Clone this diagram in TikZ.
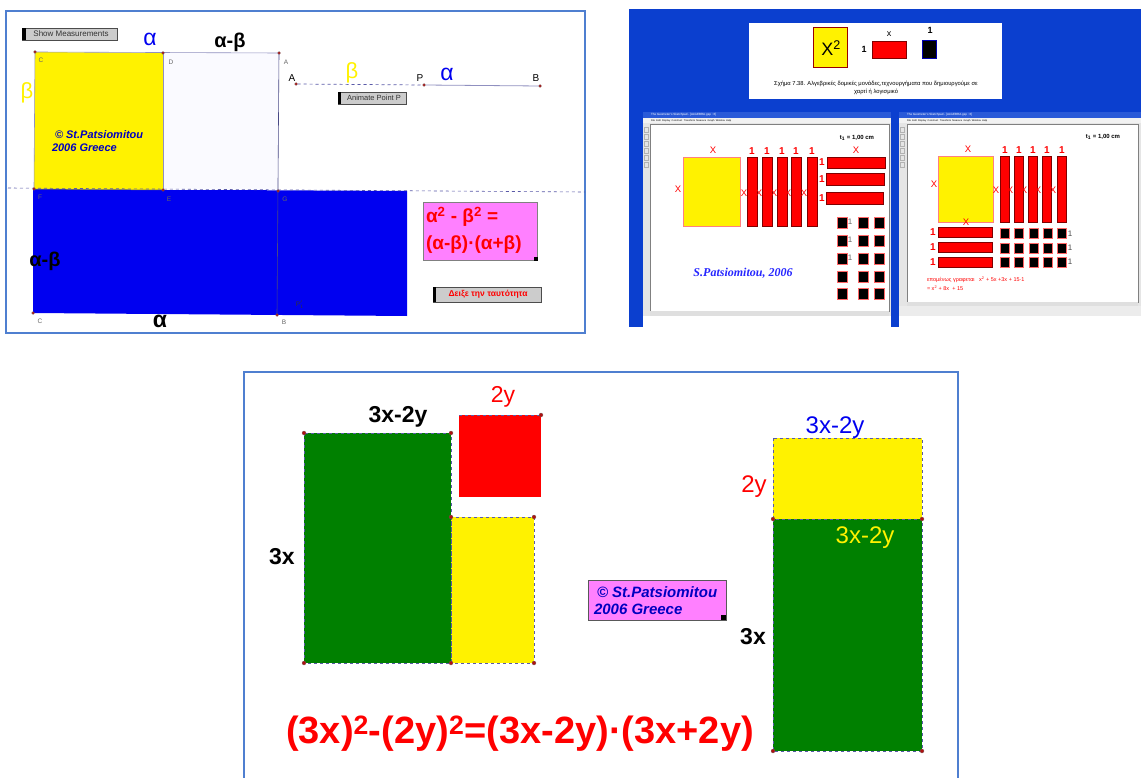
\documentclass[tikz,border=0pt]{standalone}
\usepackage{fontspec}
\setmainfont{Liberation Sans}
\newfontfamily\tserif{Liberation Serif}
\definecolor{pborder}{HTML}{4F7FD0}
\definecolor{sbg}{HTML}{0B3FCF}
\definecolor{pinkbox}{HTML}{FF80FF}
\definecolor{ggreen}{HTML}{008000}
\definecolor{gblue}{HTML}{0000F0}
\definecolor{dashc}{HTML}{5A5AA8}
\definecolor{dotred}{HTML}{B01010}
\definecolor{edgec}{HTML}{9090C0}
\definecolor{winbar}{HTML}{2A5AD8}
\newcommand{\fsz}[1]{\fontsize{#1}{#1}\selectfont}
\begin{document}
\begin{tikzpicture}[x=1pt,y=-1pt,every node/.style={inner sep=0pt,outer sep=0pt}]
\tikzset{
  vdot/.style={circle,fill=dotred,draw=black!60,line width=0.2pt,inner sep=0pt,minimum size=4pt},
  plbl/.style={font=\fsz{6.5},text=black!60},
  wx/.style={font=\fsz{9.5},text=red},
  wone/.style={font=\bfseries\fsz{10},text=red},
  blk/.style={fill=black,draw=red!60,line width=0.3pt},
  rbar/.style={fill=red,draw=red!50!black,line width=0.3pt},
}
\useasboundingbox (0,0) rectangle (1141,778);
\fill[white] (0,0) rectangle (1141,778);

% ================= panel 1 =================
\draw[pborder,line width=1.8pt] (6,11) rectangle (585,333);
\fill[gblue] (33,189) -- (407,191) -- (407,316) -- (33,313) -- cycle;
\fill[yellow] (35,52) -- (163,53) -- (163,190) -- (34,189) -- cycle;
\fill[blue!2] (163,53) -- (279,53) -- (278,190) -- (163,190) -- cycle;
\draw[edgec,line width=0.6pt] (35,52) -- (279,53);
\draw[edgec,line width=0.6pt] (35,52) -- (34,189);
\draw[edgec,line width=0.6pt] (163,53) -- (163,190);
\draw[black!60,line width=0.5pt] (34,189) -- (163,190);
\draw[dashc!80!black,line width=0.6pt] (279,53) -- (277,315);
\draw[dashc,dashed,line width=0.6pt] (8,188) -- (585,192);
\node[vdot,minimum size=3pt] (pC) at (35,52) {};
\node[vdot,minimum size=3pt] (pD) at (163,53) {};
\node[vdot,minimum size=3pt] (pA) at (279,53) {};
\node[vdot,minimum size=3pt] (pF) at (34,189) {};
\node[vdot,minimum size=3pt] (pE) at (163,190) {};
\node[vdot,minimum size=3pt] (pG) at (278,191) {};
\node[vdot,minimum size=3pt] (pC2) at (33,313) {};
\node[vdot,minimum size=3pt] (pB) at (277,315) {};
\node[plbl] (lC) at (41,60) {C};
\node[plbl] (lD) at (171,62) {D};
\node[plbl] (lA) at (286,62) {A};
\node[plbl] (lF) at (40,197) {F};
\node[plbl] (lE) at (169,199) {E};
\node[plbl] (lG) at (285,199) {G};
\node[plbl] (lC2) at (40,321) {C};
\node[plbl] (lB) at (284,322) {B};
\node[plbl,text=black!80] (lP1) at (300,305) {P$'_1$};
% button
\fill[gray!40] (22,28) rectangle (117,40);
\draw[black!70,line width=0.5pt] (22,28) rectangle (117,40);
\fill[black] (22,28) rectangle (25.5,40);
\node[font=\fsz{8},text=black!80] (bshow) at (71,34) {Show Measurements};
% labels
\node[font=\fsz{23},text=gblue] (la1) at (150,39) {α};
\node[font=\bfseries\fsz{20}] (lab1) at (230,42) {α-β};
\node[font=\fsz{22},text=yellow] (lb1) at (27,93) {β};
\node[font=\bfseries\itshape\fsz{11},text=gblue!80!black,anchor=west] (cp1) at (55,135) {© St.Patsiomitou};
\node[font=\bfseries\itshape\fsz{11},text=gblue!80!black,anchor=west] (cp2) at (52,148) {2006 Greece};
\node[font=\bfseries\fsz{20}] (lab2) at (45,261) {α-β};
\node[font=\bfseries\fsz{23}] (la2) at (160,321) {α};
% segment A P B
\node[vdot,minimum size=3pt] (sA) at (296,84) {};
\node[vdot,minimum size=3pt] (sP) at (424,85) {};
\node[vdot,minimum size=3pt] (sB) at (540,86) {};
\draw[dashc,dashed,line width=0.7pt] (sA) -- (sP);
\draw[edgec,line width=0.8pt] (sP) -- (sB);
\node[font=\fsz{10}] (tA) at (292,78) {A};
\node[font=\fsz{10}] (tP) at (420,78) {P};
\node[font=\fsz{10}] (tB) at (536,78) {B};
\node[font=\fsz{22},text=yellow] (tbeta) at (352,73) {β};
\node[font=\fsz{23},text=gblue] (talpha) at (447,74) {α};
\fill[gray!40] (338,92) rectangle (406,104);
\draw[black!70,line width=0.5pt] (338,92) rectangle (406,104);
\fill[black] (338,92) rectangle (341,104);
\node[font=\fsz{7.5},text=black!80] (banim) at (374,98) {Animate Point P};
% identity box
\fill[pinkbox] (423,202) rectangle (537,260);
\draw[gray,line width=0.6pt] (423,202) rectangle (537,260);
\fill[black] (534,257) rectangle (538,261);
\node[font=\bfseries\fsz{19},text=red,anchor=west] (id1) at (426,217) {α\textsuperscript{2} - β\textsuperscript{2} =};
\node[font=\bfseries\fsz{19},text=red,anchor=west] (id2) at (426,245) {(α-β)·(α+β)};
\fill[gray!40] (433,287) rectangle (541,302);
\draw[black!70,line width=0.5pt] (433,287) rectangle (541,302);
\fill[black] (433,287) rectangle (436,302);
\node[font=\bfseries\fsz{8.5},text=red] (bshowid) at (488,294.5) {Δειξε την ταυτότητα};

% ================= panel 2 =================
\fill[sbg] (629,9) rectangle (1141,327);
\fill[white] (749,23) rectangle (1002,99);
\fill[yellow] (813,27) rectangle (847,67);
\draw[red!60!black,line width=0.6pt] (813,27) rectangle (847,67);
\node[font=\fsz{18}] (x2) at (831,48) {X\textsuperscript{2}};
\node[font=\bfseries\fsz{9}] (one1) at (864,49) {1};
\fill[red] (872,41) rectangle (906,58);
\draw[red!50!black,line width=0.6pt] (872,41) rectangle (906,58);
\node[font=\fsz{9}] (xl) at (889,34) {x};
\fill[black] (922,40) rectangle (936,58);
\draw[blue!70!black,line width=0.6pt] (922,40) rectangle (936,58);
\node[font=\bfseries\fsz{9}] (one2) at (930,30) {1};
\node[font=\fsz{5.8}] (cap1) at (876,84) {Σχήμα 7.38. Αλγεβρικές δομικές μονάδες,τεχνουργήματα που δημιουργούμε σε};
\node[font=\fsz{5.8}] (cap2) at (876,92) {χαρτί ή λογισμικό};

% --- left window ---
\fill[gray!20] (643,112) rectangle (891,327);
\fill[winbar] (643,112) rectangle (891,118);
\node[font=\fsz{3},text=white,anchor=west] (wt1) at (651,115) {The Geometer's Sketchpad - [ALGEBRA.gsp : 6]};
\fill[gray!10] (643,118) rectangle (891,123);
\node[font=\fsz{2.5},anchor=west] (wm1) at (651,120.5) {File\; Edit\; Display\; Construct\; Transform\; Measure\; Graph\; Window\; Help};
\fill[white] (650,124) rectangle (889,311);
\draw[gray,line width=0.3pt] (650,124) rectangle (889,311);
\foreach \yy in {127,134,141,148,155,162}{\draw[gray!60,line width=0.3pt] (644.5,\yy) rectangle (648.5,\yy+5);}
\fill[gray!25] (650,311) rectangle (889,316);
\fill[white] (643,316) rectangle (891,327);
\node[font=\bfseries\fsz{6}] (wt1a) at (857,138) {t\textsubscript{1} = 1,00 cm};
\fill[yellow] (683,157) rectangle (740,226);
\draw[red!50,line width=0.3pt] (683,157) rectangle (740,226);
\node[wx] (lx1) at (713,150) {X};
\node[wx] (lx2) at (678,189) {X};
\foreach \xx in {747,762,777,791,807}{
  \fill[rbar] (\xx,157) rectangle (\xx+10,226);
  \node[wone] at (\xx+5,151) {1};
  \node[wx] at (\xx-3,193) {X};
}
\fill[rbar] (827,157) rectangle (885,168);
\fill[rbar] (826,173) rectangle (884,185);
\fill[rbar] (826,192) rectangle (883,204);
\node[wx] (lx3) at (856,150) {X};
\node[wone] at (822,162) {1};
\node[wone] at (822,179) {1};
\node[wone] at (822,198) {1};
\foreach \yy in {217,235,253,271,288}{
  \foreach \xx in {837,858,874}{\fill[blk] (\xx,\yy) rectangle (\xx+10,\yy+11);}
}
\node[font=\fsz{8},text=black!60] at (850,222) {1};
\node[font=\fsz{8},text=black!60] at (850,240) {1};
\node[font=\fsz{8},text=black!60] at (850,258) {1};
\node[font=\tserif\bfseries\itshape\fsz{12},text=blue!85!white] (spat) at (743,273) {S.Patsiomitou, 2006};

% --- right window ---
\fill[gray!20] (899,112) rectangle (1141,327);
\fill[winbar] (899,112) rectangle (1141,118);
\node[font=\fsz{3},text=white,anchor=west] (wt2) at (907,115) {The Geometer's Sketchpad - [ALGEBRA.gsp : 6]};
\fill[gray!10] (899,118) rectangle (1141,123);
\node[font=\fsz{2.5},anchor=west] (wm2) at (907,120.5) {File\; Edit\; Display\; Construct\; Transform\; Measure\; Graph\; Window\; Help};
\fill[white] (907,124) rectangle (1138,302);
\draw[gray,line width=0.3pt] (907,124) rectangle (1138,302);
\foreach \yy in {127,134,141,148,155,162}{\draw[gray!60,line width=0.3pt] (900.5,\yy) rectangle (904.5,\yy+5);}
\fill[gray!25] (907,302) rectangle (1138,306);
\fill[gray!15] (899,306) rectangle (1141,316);
\fill[white] (899,316) rectangle (1141,327);
\node[font=\bfseries\fsz{6}] (wt2a) at (1103,137) {t\textsubscript{1} = 1,00 cm};
\fill[yellow] (938,156) rectangle (993,222);
\draw[red!50,line width=0.3pt] (938,156) rectangle (993,222);
\node[wx] (rx1) at (968,149) {X};
\node[wx] (rx2) at (934,184) {X};
\node[wx] (rx3) at (966,222) {X};
\foreach \xx in {1000,1014,1028,1042,1057}{
  \fill[rbar] (\xx,156) rectangle (\xx+9,222);
  \node[wone] at (\xx+5,150) {1};
  \node[wx] at (\xx-4,190) {X};
}
\fill[rbar] (938,227) rectangle (992,237);
\fill[rbar] (938,242) rectangle (992,252);
\fill[rbar] (938,257) rectangle (992,267);
\node[wone] at (933,232) {1};
\node[wone] at (933,247) {1};
\node[wone] at (933,262) {1};
\foreach \yy in {228,243,257}{
  \foreach \xx in {1000,1014,1029,1043,1057}{\fill[blk] (\xx,\yy) rectangle (\xx+9,\yy+10);}
}
\node[font=\fsz{8},text=black!70] at (1070,234) {1};
\node[font=\fsz{8},text=black!70] at (1070,248) {1};
\node[font=\fsz{8},text=black!70] at (1070,262) {1};
\node[font=\fsz{5.5},text=red,anchor=west] (ep1) at (927,280) {επομένως γραφεται\;\; x\textsuperscript{2} + 5x +3x + 15·1};
\node[font=\fsz{5.5},text=red,anchor=west] (ep2) at (927,288) {= x\textsuperscript{2} + 8x\; + 15};

% ================= panel 3 =================
\draw[pborder,line width=1.5pt] (244,778) -- (244,372) -- (958,372) -- (958,778);
\fill[ggreen] (304,433) rectangle (451,663);
\fill[yellow] (451,517) rectangle (534,663);
\fill[red] (459,415) rectangle (541,497);
\draw[dashc,dashed,line width=0.7pt] (304,433) rectangle (451,663);
\draw[dashc,dashed,line width=0.7pt] (451,517) rectangle (534,663);
\draw[dashc,dashed,line width=0.7pt] (459,415) -- (541,415);
\node[vdot] (g1) at (304,433) {};
\node[vdot] (g2) at (451,433) {};
\node[vdot] (g3) at (451,517) {};
\node[vdot] (g4) at (534,517) {};
\node[vdot] (g5) at (304,663) {};
\node[vdot] (g6) at (451,663) {};
\node[vdot] (g7) at (534,663) {};
\node[vdot] (g8) at (541,415) {};
\node[font=\bfseries\fsz{23}] (t3a) at (398,417) {3x-2y};
\node[font=\fsz{23},text=red] (t3b) at (503,397) {2y};
\node[font=\bfseries\fsz{23}] (t3c) at (282,557) {3x};
% right figure
\fill[yellow] (773,438) rectangle (922,519);
\fill[ggreen] (773,519) rectangle (922,751);
\draw[dashc,dashed,line width=0.7pt] (773,438) rectangle (922,519);
\draw[dashc,dashed,line width=0.7pt] (773,519) rectangle (922,751);
\node[vdot] (h1) at (773,519) {};
\node[vdot] (h2) at (922,519) {};
\node[vdot] (h3) at (773,751) {};
\node[vdot] (h4) at (922,751) {};
\node[font=\fsz{24},text=gblue] (t3d) at (835,428) {3x-2y};
\node[font=\fsz{24},text=red] (t3e) at (754,487) {2y};
\node[font=\fsz{24},text=yellow] (t3f) at (865,538) {3x-2y};
\node[font=\bfseries\fsz{23}] (t3g) at (753,637) {3x};
% copyright box
\fill[pinkbox] (588,580) rectangle (726,620);
\draw[gray!70!black,line width=0.8pt] (588,580) rectangle (726,620);
\fill[black] (721,615) rectangle (726,620);
\node[font=\bfseries\itshape\fsz{15},text=gblue!80!black,anchor=west] (cp3) at (597,592) {© St.Patsiomitou};
\node[font=\bfseries\itshape\fsz{15},text=gblue!80!black,anchor=west] (cp4) at (594,609) {2006 Greece};
% formula
\node[font=\bfseries\fsz{38},text=red] (form) at (520,734) {(3x)\textsuperscript{2}-(2y)\textsuperscript{2}=(3x-2y)·(3x+2y)};
\end{tikzpicture}
\end{document}
